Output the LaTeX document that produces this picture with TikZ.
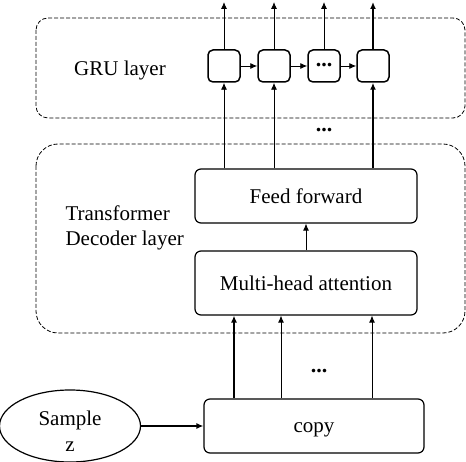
\documentclass[tikz,border=0pt]{standalone}
\usepackage{fontspec}
\setmainfont{Liberation Serif}
\usetikzlibrary{shapes.geometric,arrows.meta}
\begin{document}
\begin{tikzpicture}[x=1pt,y=-1pt,
  every node/.style={font=\fontsize{21}{25}\selectfont},
  layerbox/.style={draw,line width=0.8pt,dash pattern=on 4pt off 2pt},
  blockbox/.style={draw,line width=1.2pt,rounded corners=6pt,minimum width=222pt,inner sep=0pt},
  grubox/.style={draw,line width=1.5pt,rounded corners=5pt,minimum width=32pt,minimum height=32pt,inner sep=0pt},
  arr/.style={-{Latex[length=7pt,width=6pt]},line width=0.9pt},
  thickarr/.style={-{Latex[length=7pt,width=6pt]},line width=1.8pt},
  dots/.style={font=\fontsize{22}{24}\selectfont\bfseries}
]
\useasboundingbox (0,0) rectangle (466,462);
% layer frames
\draw[layerbox,rounded corners=12pt] (36,18) rectangle (465,118);
\draw[layerbox,rounded corners=22pt] (36,144) rectangle (465,333);
\node[anchor=center] (grulabel) at (120,70) {GRU layer};
\node[anchor=west,align=left,font=\fontsize{21}{25}\selectfont] (tlabel) at (62,228) {Transformer\\Decoder layer};
% GRU cells
\node[grubox] (g1) at (224,66) {};
\node[grubox] (g2) at (274,66) {};
\node[grubox] (g3) at (324,66) {};
\node[dots] (g3dots) at (324,65) {...};
\node[grubox] (g4) at (373,66) {};
\draw[arr] (g1) -- (g2);
\draw[arr] (g2) -- (g3);
\draw[arr] (g3) -- (g4);
\coordinate (o1) at (224,2);
\coordinate (o2) at (274,2);
\coordinate (o3) at (324,2);
\coordinate (o4) at (373,2);
\draw[arr] (g1.north) -- (o1);
\draw[arr] (g2.north) -- (o2);
\draw[arr] (g3.north) -- (o3);
\draw[thickarr] (g4.north) -- (o4);
% transformer blocks
\node[blockbox,minimum height=54pt] (ff) at (306,196) {Feed forward};
\node[blockbox,minimum height=64pt] (mha) at (306,283) {Multi-head attention};
\draw[arr] (mha.north) -- (ff.south);
\draw[arr] (ff.north -| g1) -- (g1.south);
\draw[arr] (ff.north -| g2) -- (g2.south);
\draw[thickarr] (ff.north -| g4) -- (g4.south);
\node[dots] (d1) at (324,130) {...};
% copy and sample
\node[blockbox,minimum width=220pt,minimum height=54pt,text height=13pt,text depth=0pt] (copy) at (314,426) {copy};
\node[draw,ellipse,line width=1.2pt,minimum width=141pt,minimum height=72pt,inner sep=0pt] (sample) at (70,426) {};
\node[align=center,font=\fontsize{21}{26}\selectfont] (sampletext) at (70,431) {Sample\\z};
\draw[thickarr] (sample.east) -- (copy.west);
\coordinate (c1) at (234,0);
\coordinate (c2) at (281,0);
\coordinate (c3) at (372,0);
\draw[thickarr] (copy.north -| c1) -- (mha.south -| c1);
\draw[arr] (copy.north -| c2) -- (mha.south -| c2);
\draw[arr] (copy.north -| c3) -- (mha.south -| c3);
\node[dots] (d2) at (319,371) {...};
\end{tikzpicture}
\end{document}
